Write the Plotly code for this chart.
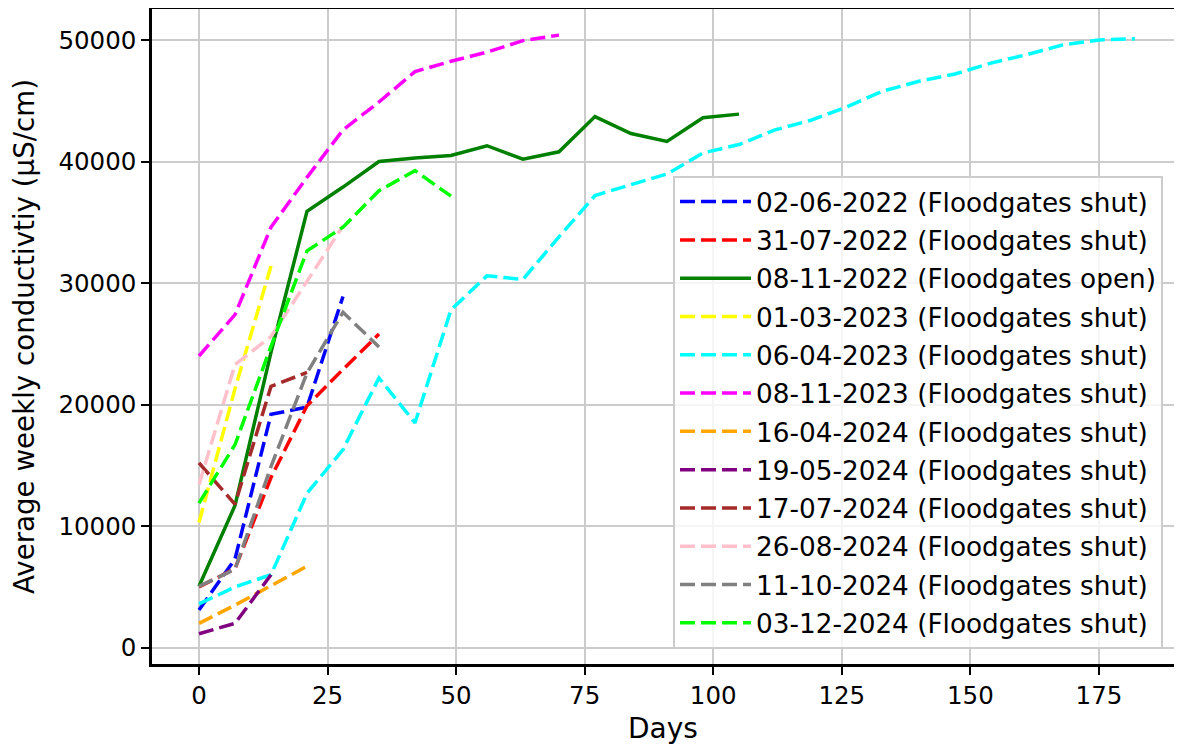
import plotly.graph_objects as go

# ---------------- data ----------------
labels = [
    "02-06-2022 (Floodgates shut)",
    "31-07-2022 (Floodgates shut)",
    "08-11-2022 (Floodgates open)",
    "01-03-2023 (Floodgates shut)",
    "06-04-2023 (Floodgates shut)",
    "08-11-2023 (Floodgates shut)",
    "16-04-2024 (Floodgates shut)",
    "19-05-2024 (Floodgates shut)",
    "17-07-2024 (Floodgates shut)",
    "26-08-2024 (Floodgates shut)",
    "11-10-2024 (Floodgates shut)",
    "03-12-2024 (Floodgates shut)",
]

days_0206_2022 = [0, 7, 14, 21, 28]
vals_0206_2022 = [3100, 7300, 19200, 19800, 28900]

days_3107_2022 = [0, 7, 14, 21, 28, 35]
vals_3107_2022 = [5000, 6500, 14000, 19900, 22900, 25800]

days_0811_2022 = [0, 7, 14, 21, 28, 35, 42, 49, 56, 63, 70, 77, 84, 91, 98, 105]
vals_0811_2022 = [5050, 11700, 24300, 35900, 37900, 40000, 40300, 40500,
                  41300, 40200, 40800, 43700, 42300, 41650, 43600, 43900]

days_0103_2023 = [0, 7, 14]
vals_0103_2023 = [10300, 21300, 31400]

days_0604_2023 = [0, 7, 14, 21, 28, 35, 42, 49, 56, 63, 70, 77, 84, 91,
                  98, 105, 112, 119, 126, 133, 140, 147, 154, 161, 168, 175, 182]
vals_0604_2023 = [3600, 5000, 6000, 12700, 16300, 22200, 18500, 27800, 30600,
                  30300, 33800, 37200, 38100, 38970, 40700, 41400, 42600, 43400,
                  44500, 45800, 46600, 47200, 48100, 48800, 49600, 50000, 50100]

days_0811_2023 = [0, 7, 14, 21, 28, 35, 42, 49, 56, 63, 70]
vals_0811_2023 = [24000, 27400, 34600, 38700, 42600, 44900, 47400, 48250,
                  49000, 49950, 50400]

days_1604_2024 = [0, 7, 14, 21]
vals_1604_2024 = [2000, 3500, 5100, 6700]

days_1905_2024 = [0, 7, 14]
vals_1905_2024 = [1150, 2000, 6000]

days_1707_2024 = [0, 7, 14, 21]
vals_1707_2024 = [15200, 11800, 21500, 22650]

days_2608_2024 = [0, 7, 14, 21, 28]
vals_2608_2024 = [13400, 23300, 25600, 30100, 34700]

days_1110_2024 = [0, 7, 14, 21, 28, 35]
vals_1110_2024 = [5050, 6450, 14900, 22600, 27600, 24750]

days_0312_2024 = [0, 7, 14, 21, 28, 35, 42, 49]
vals_0312_2024 = [11900, 16700, 24800, 32650, 34600, 37600, 39250, 37150]

series_days = [days_0206_2022, days_3107_2022, days_0811_2022, days_0103_2023,
               days_0604_2023, days_0811_2023, days_1604_2024, days_1905_2024,
               days_1707_2024, days_2608_2024, days_1110_2024, days_0312_2024]
series_vals = [vals_0206_2022, vals_3107_2022, vals_0811_2022, vals_0103_2023,
               vals_0604_2023, vals_0811_2023, vals_1604_2024, vals_1905_2024,
               vals_1707_2024, vals_2608_2024, vals_1110_2024, vals_0312_2024]

x_ticks = [0, 25, 50, 75, 100, 125, 150, 175]
y_ticks = [0, 10000, 20000, 30000, 40000, 50000]

# ---------------- styles ----------------
colors = ["#0000ff", "#ff0000", "#008000", "#ffff00", "#00ffff", "#ff00ff",
          "#ffa500", "#800080", "#a52a2a", "#ffc0cb", "#808080", "#00ff00"]
dashes = ["15px,6px"] * 12
dashes[2] = "solid"

fig = go.Figure()
for i, (lab, d, v) in enumerate(zip(labels, series_days, series_vals)):
    fig.add_trace(go.Scatter(
        x=d, y=v, mode="lines", name=lab, legendgroup=f"g{i}",
        line=dict(color=colors[i], width=3.5, dash=dashes[i]),
    ))

tick_font = dict(family="DejaVu Sans", size=24.5, color="black")
fig.update_layout(
    width=1166, height=737,
    paper_bgcolor="white", plot_bgcolor="white",
    margin=dict(l=144, r=0, t=1, b=81, autoexpand=False),
    showlegend=True,
    legend=dict(
        x=0.5098, y=0.745, xanchor="left", yanchor="top",
        font=dict(family="DejaVu Sans", size=26.3, color="black"),
        bgcolor="rgba(255,255,255,0.8)",
        bordercolor="#cccccc", borderwidth=2,
        tracegroupgap=1.1, itemwidth=71,
    ),
    xaxis=dict(
        range=[-9.14, 189.6], tickvals=x_ticks, automargin=False,
        showgrid=True, gridcolor="#cccccc", gridwidth=1.5,
        zeroline=False, showline=True, linecolor="black", linewidth=2.5,
        mirror=True, ticks="outside", ticklen=8, tickwidth=2, tickcolor="black",
        tickfont=tick_font,
        title=dict(text="Days", font=dict(family="DejaVu Sans", size=28, color="black"),
                   standoff=10),
    ),
    yaxis=dict(
        range=[-1341, 52550], tickvals=y_ticks, tickformat="d", automargin=True,
        showgrid=True, gridcolor="#cccccc", gridwidth=1.5,
        zeroline=False, showline=True, linecolor="black", linewidth=2.5,
        mirror=False, ticks="outside", ticklen=8, tickwidth=2, tickcolor="black",
        tickfont=tick_font,
        title=dict(text="Average weekly conductivtiy (µS/cm)",
                   font=dict(family="DejaVu Sans", size=27.7, color="black"),
                   standoff=19),
    ),
)

fig.write_html("out.html")
